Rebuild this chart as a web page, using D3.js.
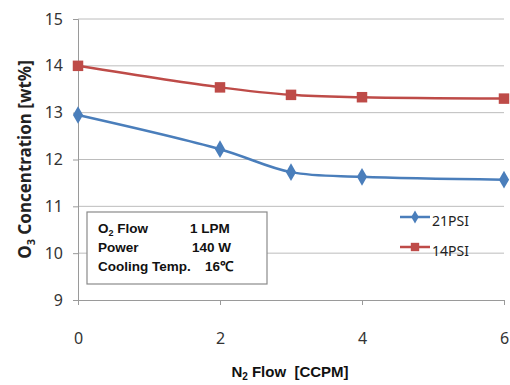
<!DOCTYPE html>
<html>
<head>
<meta charset="utf-8">
<script src="https://cdn.jsdelivr.net/npm/d3@7"></script>
<style>
  body { margin: 0; background: #fff; }
  svg { display: block; }
</style>
</head>
<body>
<div id="chart"></div>
<script>
// data
const flows = [0, 2, 3, 4, 6];
const psi21 = [12.95, 12.22, 11.73, 11.63, 11.57];
const psi14 = [14.0, 13.54, 13.38, 13.33, 13.3];
const xTicks = [0, 2, 4, 6];
const yTicks = [9, 10, 11, 12, 13, 14, 15];
const infoRows = [["O", "2", " Flow", "1 LPM"], ["Power", "", "", "140 W"], ["Cooling Temp.", "", "", "16\u2103"]];

const W = 510, H = 385;
const margin = { top: 19, right: 6, bottom: 85, left: 78 };
const width = W - margin.left - margin.right;
const height = H - margin.top - margin.bottom;

const svg = d3.select("#chart").append("svg")
    .attr("width", W).attr("height", H);

const g = svg.append("g").attr("transform", `translate(${margin.left},${margin.top})`);

const x = d3.scaleLinear().domain([0, 6]).range([0, width]);
const y = d3.scaleLinear().domain([9, 15]).range([height, 0]);

// gridlines
g.append("g").selectAll("line").data(yTicks.filter(d => d > 9)).join("line")
    .attr("x1", 0).attr("x2", width)
    .attr("y1", d => y(d)).attr("y2", d => y(d))
    .attr("stroke", "#bcbcbc").attr("stroke-width", 1);

// y axis
const yAxis = g.append("g").call(d3.axisLeft(y).tickValues(yTicks).tickFormat(d3.format("d")).tickSize(5).tickPadding(10));
// x axis
const xAxis = g.append("g").attr("transform", `translate(0,${height})`)
    .call(d3.axisBottom(x).tickValues(xTicks).tickFormat(d3.format("d")).tickSize(5).tickPadding(28));

[yAxis, xAxis].forEach(a => {
    a.select(".domain").attr("stroke", "#9a9a9a");
    a.selectAll(".tick line").attr("stroke", "#9a9a9a");
    a.selectAll("text").attr("fill", "#333").style("font-family", "'Noto Sans', sans-serif").style("font-size", "16px");
});

// series
const series = [
    { name: "21PSI", values: psi21, color: "#4a7ebb", shape: d3.symbolDiamond },
    { name: "14PSI", values: psi14, color: "#be4b48", shape: d3.symbolSquare }
];

const line = d3.line()
    .x(d => x(d[0])).y(d => y(d[1]))
    .curve(d3.curveCatmullRom.alpha(0.5));

series.forEach(s => {
    const pts = flows.map((f, i) => [f, s.values[i]]);
    g.append("path").datum(pts)
        .attr("fill", "none").attr("stroke", s.color).attr("stroke-width", 2.5)
        .attr("d", line);
    g.append("g").selectAll("path").data(pts).join("path")
        .attr("transform", d => `translate(${x(d[0])},${y(d[1])})`)
        .attr("d", d3.symbol().type(s.shape).size(s.shape === d3.symbolSquare ? 110 : 90))
        .attr("fill", s.color);
});

// legend
const legend = svg.append("g").attr("transform", "translate(400,217)");
series.forEach((s, i) => {
    const row = legend.append("g").attr("transform", `translate(0,${i * 30})`);
    row.append("line").attr("x1", 0).attr("x2", 30)
        .attr("stroke", s.color).attr("stroke-width", 2.5);
    row.append("path").attr("transform", "translate(15,0)")
        .attr("d", d3.symbol().type(s.shape).size(s.shape === d3.symbolSquare ? 70 : 50))
        .attr("fill", s.color);
    row.append("text").attr("x", 32).attr("y", 9)
        .attr("fill", "#222")
        .style("font-family", "'Noto Sans', sans-serif").style("font-size", "14px")
        .text(s.name);
});

// info box
const box = svg.append("g").attr("transform", "translate(87,212)");
box.append("rect").attr("width", 180).attr("height", 72)
    .attr("fill", "#fff").attr("stroke", "#8a8a8a").attr("stroke-width", 1.2);
infoRows.forEach((r, i) => {
    const t = box.append("text").attr("x", 11).attr("y", 21 + i * 19)
        .attr("fill", "#111")
        .style("font-family", "'Liberation Sans', Arial, sans-serif")
        .style("font-size", "13.5px").style("font-weight", "bold");
    t.append("tspan").text(r[0]);
    if (r[1]) {
        t.append("tspan").attr("dy", 3).style("font-size", "9px").text(r[1]);
        t.append("tspan").attr("dy", -3).text(r[2]);
    }
    box.append("text").attr("x", i === 2 ? 118 : 103 + i * 2).attr("y", 21 + i * 19)
        .attr("fill", "#111")
        .style("font-family", "'Liberation Sans', Arial, sans-serif")
        .style("font-size", "13.5px").style("font-weight", "bold")
        .text(r[3]);
});

// axis titles
const yTitle = svg.append("text")
    .attr("transform", `translate(31,${margin.top + height / 2}) rotate(-90)`)
    .attr("text-anchor", "middle").attr("fill", "#222")
    .style("font-family", "'Noto Sans', sans-serif").style("font-size", "17px").style("font-weight", "bold");
yTitle.append("tspan").text("O");
yTitle.append("tspan").attr("dy", 4).style("font-size", "11px").text("3");
yTitle.append("tspan").attr("dy", -4).text(" Concentration [wt%]");

const xTitle = svg.append("text")
    .attr("x", 290).attr("y", 377)
    .attr("text-anchor", "middle").attr("fill", "#111")
    .style("font-family", "'Liberation Sans', Arial, sans-serif").style("font-size", "15px").style("font-weight", "bold");
xTitle.append("tspan").text("N");
xTitle.append("tspan").attr("dy", 3).style("font-size", "10px").text("2");
xTitle.append("tspan").attr("dy", -3).attr("xml:space", "preserve").text(" Flow  [CCPM]");
</script>
</body>
</html>
